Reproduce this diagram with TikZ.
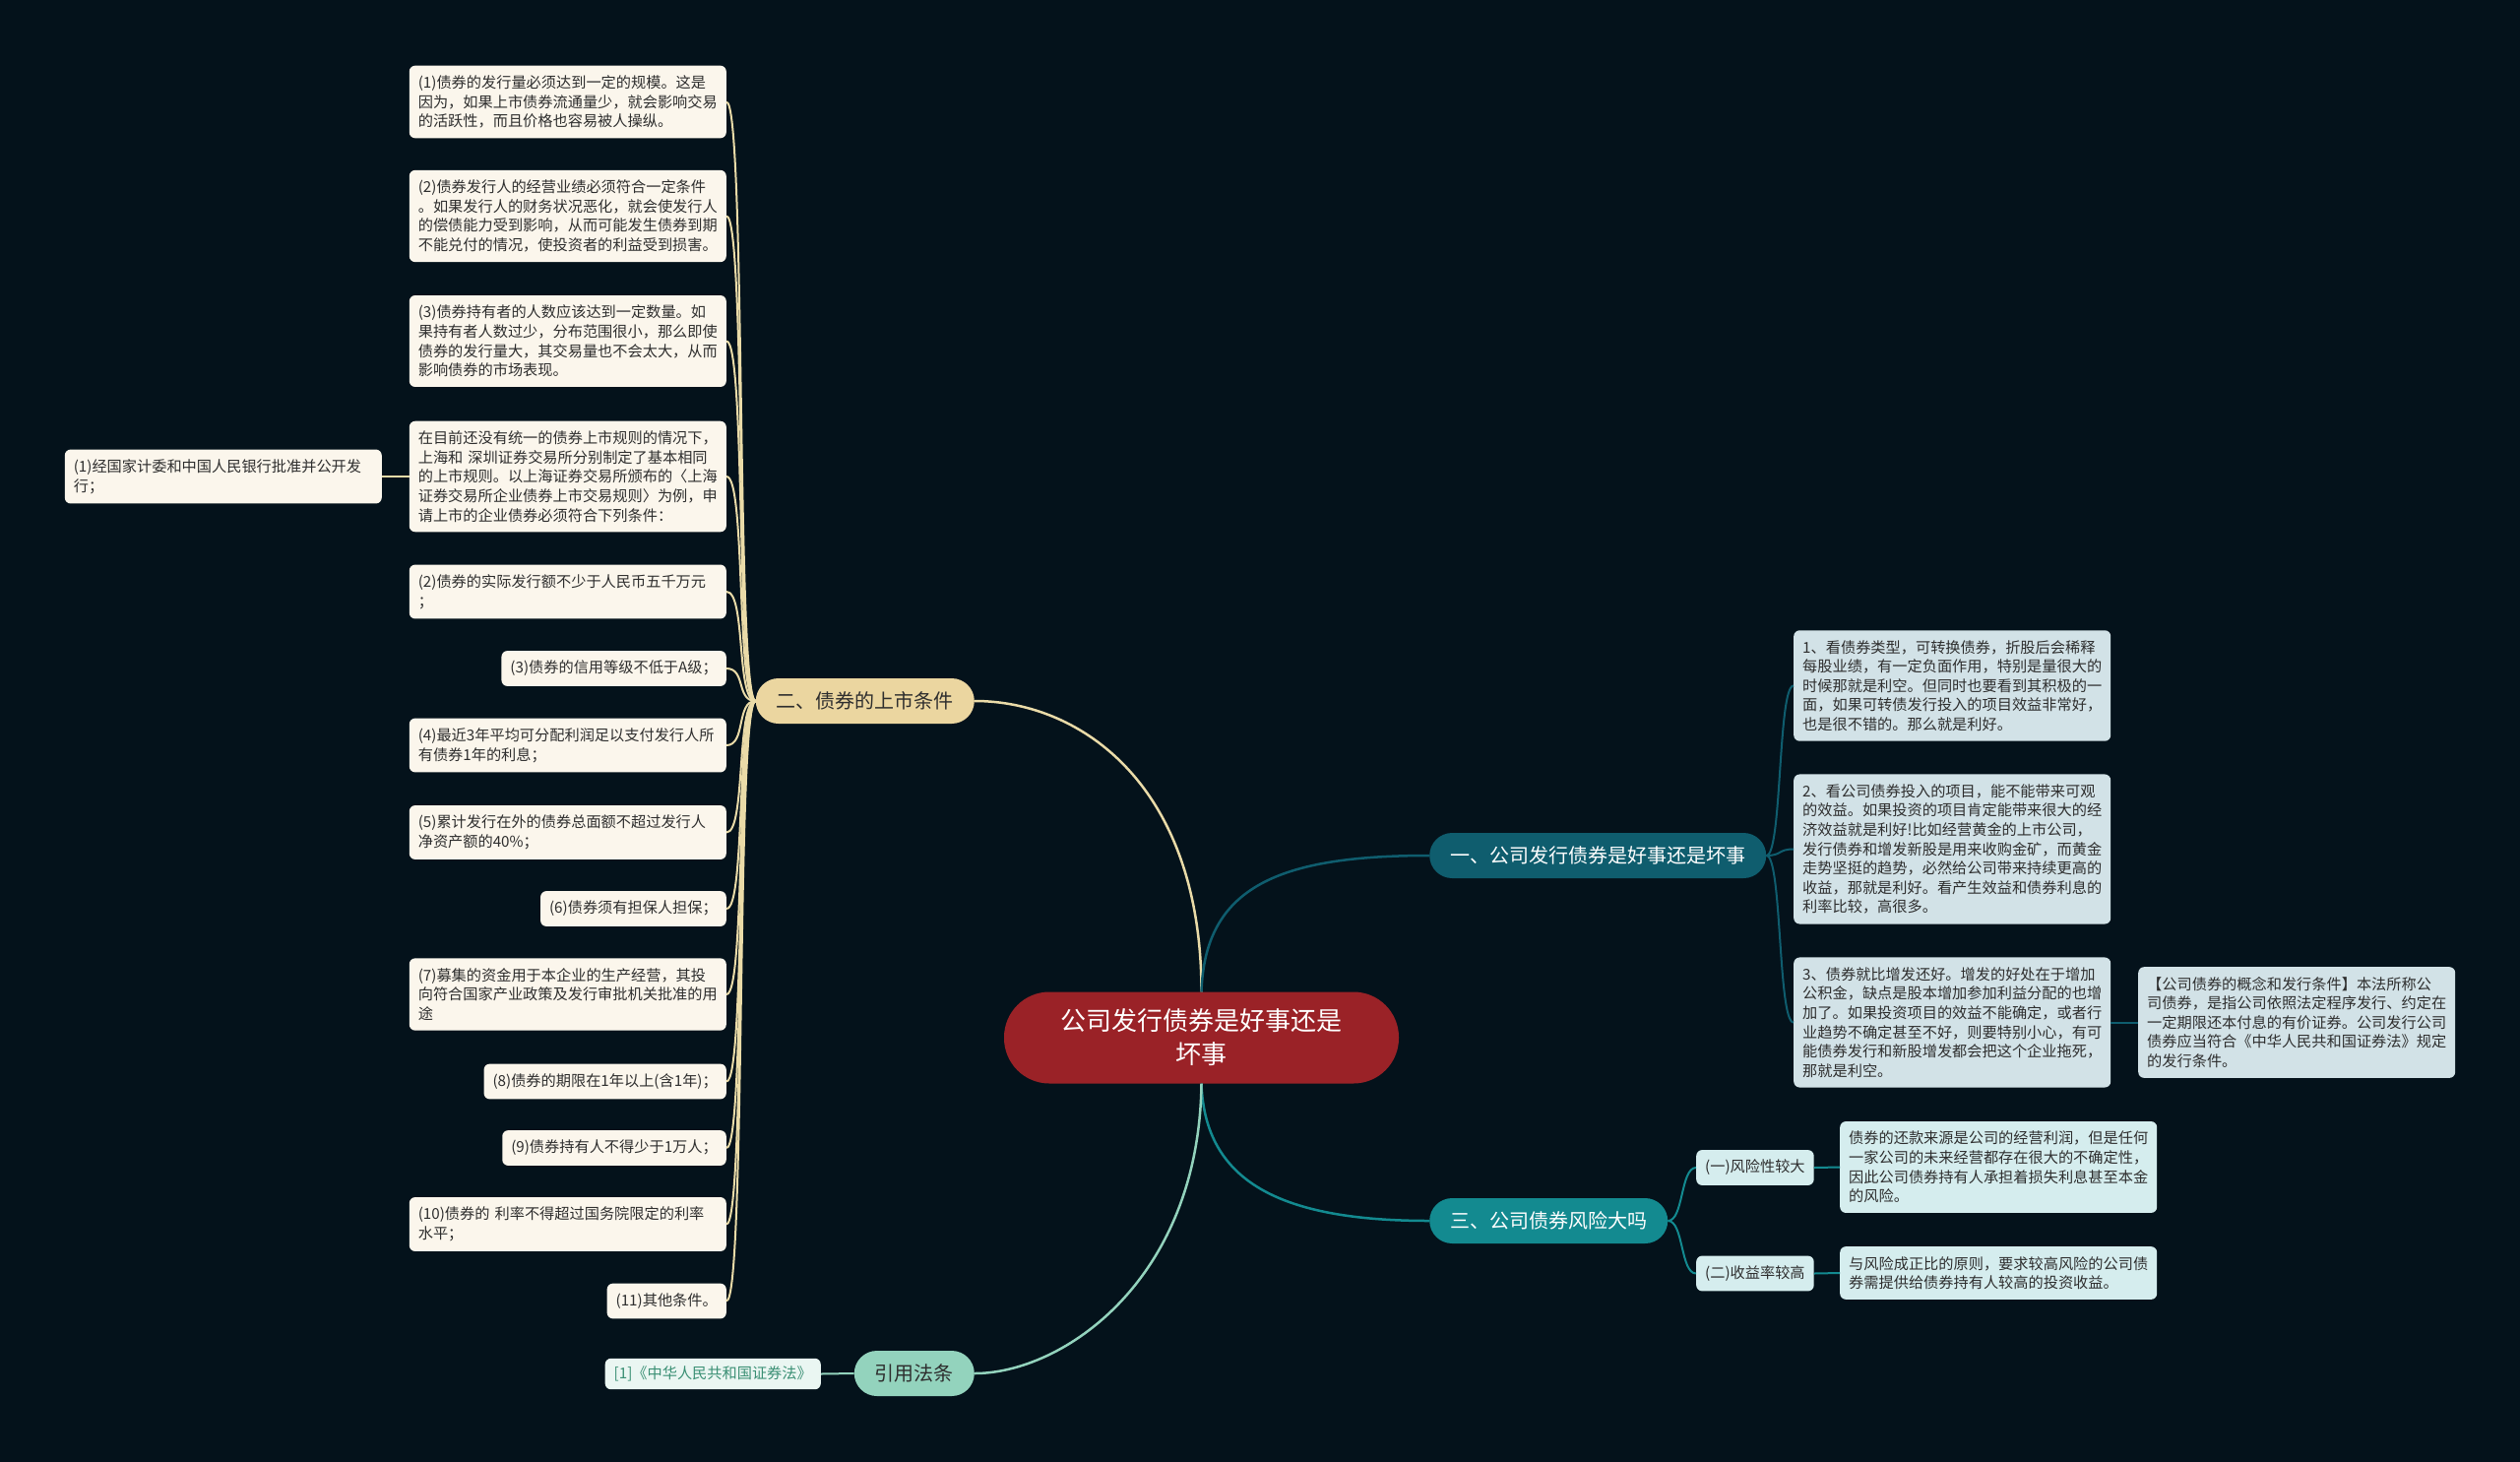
\documentclass[tikz,border=0pt]{standalone}
\usepackage{fontspec}
\setmainfont{Noto Sans CJK SC}
\definecolor{bgc}{HTML}{04121B}
\definecolor{rootc}{HTML}{9A2227}
\definecolor{bonec}{HTML}{0F5D6E}
\definecolor{bthreec}{HTML}{138A90}
\definecolor{btwoc}{HTML}{EBD6A0}
\definecolor{bfourc}{HTML}{93D3BD}
\definecolor{creamc}{HTML}{FBF6EC}
\definecolor{bluegc}{HTML}{D2E2E7}
\definecolor{cyanlc}{HTML}{D5EDEE}
\definecolor{mintlc}{HTML}{EAF6F2}
\definecolor{minttc}{HTML}{3A8F74}
\definecolor{tanline}{HTML}{EADBA8}
\definecolor{txtc}{HTML}{2E2E2E}
\newcommand{\leaffont}{\fontsize{15.2}{19.6}\selectfont}
\newcommand{\brfont}{\fontsize{20}{24}\selectfont}
\newcommand{\rootfont}{\fontsize{26}{34}\selectfont}
\tikzset{
  leafbase/.style={rounded corners=6pt, inner xsep=9pt, inner ysep=10pt, font=\leaffont, text=txtc, align=left},
  leafw/.style={leafbase, text width=304pt},
  creamleaf/.style={leafbase, fill=creamc, anchor=east},
  creamleafw/.style={leafw, fill=creamc, anchor=east},
  blueleafw/.style={leafw, fill=bluegc, anchor=west},
  cyanleaf/.style={leafbase, fill=cyanlc, anchor=west},
  cyanleafw/.style={leafw, fill=cyanlc, anchor=west},
  branchbox/.style={rounded corners=23pt, minimum height=46pt, inner xsep=21pt, inner ysep=0pt, font=\brfont},
  rootbox/.style={fill=rootc, rounded corners=46pt, minimum width=401pt, minimum height=93pt, font=\rootfont, text=white, align=center},
  tanln/.style={draw=tanline, line width=2pt},
  oneln/.style={draw=bonec, line width=2pt},
  threeln/.style={draw=bthreec, line width=2pt},
  fourln/.style={draw=bfourc, line width=2pt},
}
\begin{document}
\begin{tikzpicture}[x=1pt,y=-1pt]
\useasboundingbox (0,0) rectangle (2560,1484);
\fill[bgc] (-10,-10) rectangle (2570,1494);

% root and branches
\node[rootbox] (root) at (1220.5,1054) {公司发行债券是好事还是\\坏事};
\node[branchbox, fill=bonec, text=white, anchor=west] (b1) at (1452,869) {一、公司发行债券是好事还是坏事};
\node[branchbox, fill=btwoc, text=txtc, anchor=east] (b2) at (990,712) {二、债券的上市条件};
\node[branchbox, fill=bthreec, text=white, anchor=west] (b3) at (1452,1240) {三、公司债券风险大吗};
\node[branchbox, fill=bfourc, text=txtc, anchor=east] (b4) at (990,1395) {引用法条};

% left leaves
\node[creamleafw] (L1) at (738,103.5) {(1)债券的发行量必须达到一定的规模。这是\\因为，如果上市债券流通量少，就会影响交易\\的活跃性，而且价格也容易被人操纵。};
\node[creamleafw] (L2) at (738,219.5) {(2)债券发行人的经营业绩必须符合一定条件\\。如果发行人的财务状况恶化，就会使发行人\\的偿债能力受到影响，从而可能发生债券到期\\不能兑付的情况，使投资者的利益受到损害。};
\node[creamleafw] (L3) at (738,346.5) {(3)债券持有者的人数应该达到一定数量。如\\果持有者人数过少，分布范围很小，那么即使\\债券的发行量大，其交易量也不会太大，从而\\影响债券的市场表现。};
\node[creamleafw] (L4) at (738,484) {在目前还没有统一的债券上市规则的情况下，\\上海和 深圳证券交易所分别制定了基本相同\\的上市规则。以上海证券交易所颁布的〈上海\\证券交易所企业债券上市交易规则〉为例，申\\请上市的企业债券必须符合下列条件：};
\node[creamleafw] (L4c) at (388,484) {(1)经国家计委和中国人民银行批准并公开发\\行；};
\node[creamleafw] (L5) at (738,601) {(2)债券的实际发行额不少于人民币五千万元\\；};
\node[creamleaf] (L6) at (738,679) {(3)债券的信用等级不低于A级；};
\node[creamleafw] (L7) at (738,757) {(4)最近3年平均可分配利润足以支付发行人所\\有债券1年的利息；};
\node[creamleafw] (L8) at (738,845.5) {(5)累计发行在外的债券总面额不超过发行人\\净资产额的40\%；};
\node[creamleaf] (L9) at (738,923) {(6)债券须有担保人担保；};
\node[creamleafw] (L10) at (738,1010) {(7)募集的资金用于本企业的生产经营，其投\\向符合国家产业政策及发行审批机关批准的用\\途};
\node[creamleaf] (L11) at (738,1098.5) {(8)债券的期限在1年以上(含1年)；};
\node[creamleaf] (L12) at (738,1166) {(9)债券持有人不得少于1万人；};
\node[creamleafw] (L13) at (738,1243.5) {(10)债券的 利率不得超过国务院限定的利率\\水平；};
\node[creamleaf] (L14) at (738,1321.5) {(11)其他条件。};

% right leaves
\node[blueleafw] (R1) at (1822,696.5) {1、看债券类型，可转换债券，折股后会稀释\\每股业绩，有一定负面作用，特别是量很大的\\时候那就是利空。但同时也要看到其积极的一\\面，如果可转债发行投入的项目效益非常好，\\也是很不错的。那么就是利好。};
\node[blueleafw] (R2) at (1822,862.5) {2、看公司债券投入的项目，能不能带来可观\\的效益。如果投资的项目肯定能带来很大的经\\济效益就是利好!比如经营黄金的上市公司，\\发行债券和增发新股是用来收购金矿，而黄金\\走势坚挺的趋势，必然给公司带来持续更高的\\收益，那就是利好。看产生效益和债券利息的\\利率比较，高很多。};
\node[blueleafw] (R3) at (1822,1038.5) {3、债券就比增发还好。增发的好处在于增加\\公积金，缺点是股本增加参加利益分配的也增\\加了。如果投资项目的效益不能确定，或者行\\业趋势不确定甚至不好，则要特别小心，有可\\能债券发行和新股增发都会把这个企业拖死，\\那就是利空。};
\node[blueleafw] (R3c) at (2172,1038.5) {【公司债券的概念和发行条件】本法所称公\\司债券，是指公司依照法定程序发行、约定在\\一定期限还本付息的有价证券。公司发行公司\\债券应当符合《中华人民共和国证券法》规定\\的发行条件。};

% risk
\node[cyanleaf] (K1) at (1723,1186) {(一)风险性较大};
\node[cyanleafw] (K1c) at (1869,1185.5) {债券的还款来源是公司的经营利润，但是任何\\一家公司的未来经营都存在很大的不确定性，\\因此公司债券持有人承担着损失利息甚至本金\\的风险。};
\node[cyanleaf] (K2) at (1723,1293.5) {(二)收益率较高};
\node[cyanleafw] (K2c) at (1869,1293) {与风险成正比的原则，要求较高风险的公司债\\券需提供给债券持有人较高的投资收益。};

% law
\node[leafbase, fill=mintlc, text=minttc, anchor=east, inner ysep=8pt] (M1) at (834,1395.5) {[1]《中华人民共和国证券法》};

% connectors root -> branches
\draw[tanln, line width=2.5pt] (root.north) .. controls (1220.5,800) and (1100,712) .. (b2.east);
\draw[oneln, line width=2.5pt] (root.north) .. controls (1224,900) and (1300,869) .. (b1.west);
\draw[threeln, line width=2.5pt] (root.south) .. controls (1224,1200) and (1300,1240) .. (b3.west);
\draw[fourln, line width=2.5pt] (root.south) .. controls (1218,1300) and (1080,1395) .. (b4.east);

% branch 2 bundle
\foreach \n in {L1,L2,L3,L4,L5,L6,L7,L8,L9,L10,L11,L12,L13,L14}
  \draw[tanln] (b2.west) .. controls +(-20,0) and +(20,0) .. (\n.east);
\draw[tanln] (L4.west) -- (L4c.east);

% branch 1 bundle
\foreach \n in {R1,R2,R3}
  \draw[oneln] (b1.east) .. controls +(16,0) and +(-16,0) .. (\n.west);
\draw[oneln] (R3.east) -- (R3c.west);

% branch 3
\foreach \n in {K1,K2}
  \draw[threeln] (b3.east) .. controls +(16,0) and +(-16,0) .. (\n.west);
\draw[threeln] (K1.east) -- (K1c.west);
\draw[threeln] (K2.east) -- (K2c.west);

% branch 4
\draw[fourln] (b4.west) -- (M1.east);
\end{tikzpicture}
\end{document}
